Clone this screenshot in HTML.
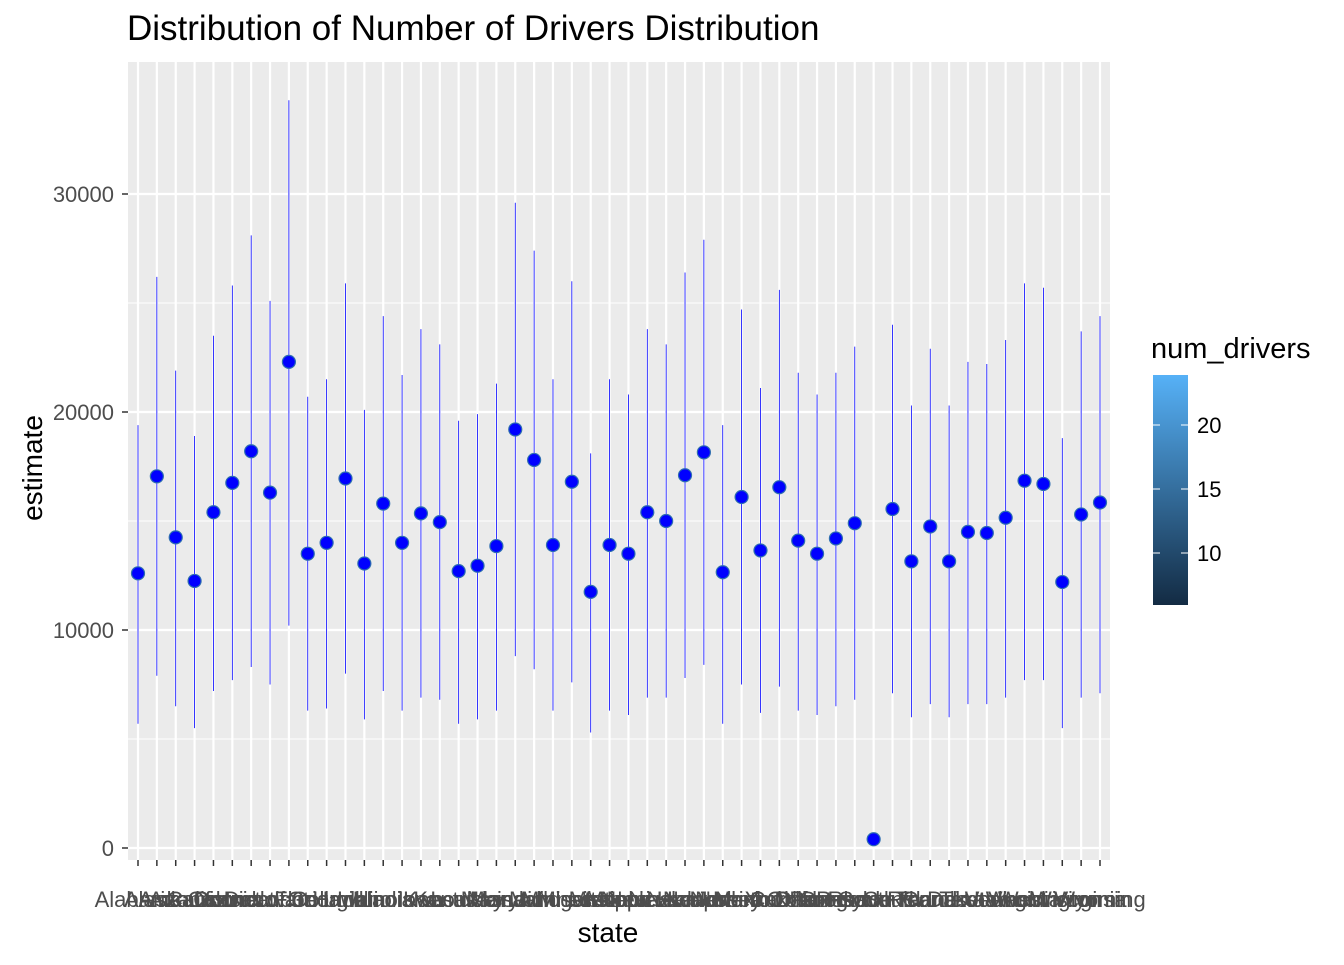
<!DOCTYPE html>
<html><head><meta charset="utf-8"><style>
body{margin:0;background:#fff;font-family:"Liberation Sans",Arial,sans-serif}
</style></head><body>
<svg id="chart" width="1344" height="960" xmlns="http://www.w3.org/2000/svg">
<defs><linearGradient id="cb" x1="0" y1="1" x2="0" y2="0"><stop offset="0" stop-color="#132B43"/><stop offset="1" stop-color="#56B1F7"/></linearGradient></defs>
<text x="127" y="40" font-size="35" fill="#000">Distribution of Number of Drivers Distribution</text>
<rect x="128" y="62" width="982" height="798" fill="#ebebeb"/>
<g id="grid"></g><g id="bars"></g><g id="pts"></g><g id="axes"></g>
<text x="608" y="942" font-size="28" text-anchor="middle">state</text>
<text transform="translate(42,468) rotate(-90)" font-size="28" text-anchor="middle">estimate</text>
<g>
<text x="1151" y="358" font-size="29">num_drivers</text>
<rect x="1153" y="375" width="35" height="230" fill="url(#cb)"/>
<g id="leg"></g></g>
</svg>
<script>
const states=["Alabama","Alaska","Arizona","Arkansas","California","Colorado","Connecticut","Delaware","District of Columbia","Florida","Georgia","Hawaii","Idaho","Illinois","Indiana","Iowa","Kansas","Kentucky","Louisiana","Maine","Maryland","Massachusetts","Michigan","Minnesota","Mississippi","Missouri","Montana","Nebraska","Nevada","New Hampshire","New Jersey","New Mexico","New York","North Carolina","North Dakota","Ohio","Oklahoma","Oregon","Pennsylvania","Puerto Rico","Rhode Island","South Carolina","South Dakota","Tennessee","Texas","Utah","Vermont","Virginia","Washington","West Virginia","Wisconsin","Wyoming"];
const estimates=[12600,17050,14250,12250,15400,16750,18200,16300,22300,13500,14000,16950,13050,15800,14000,15350,14950,12700,12950,13850,19200,17800,13900,16800,11750,13900,13500,15400,15000,17100,18150,12650,16100,13650,16550,14100,13500,14200,14900,400,15550,13150,14750,13150,14500,14450,15150,16850,16700,12200,15300,15850];
const lows=[5700,7900,6500,5500,7200,7700,8300,7500,10200,6300,6400,8000,5900,7200,6300,6900,6800,5700,5900,6300,8800,8200,6300,7600,5300,6300,6100,6900,6900,7800,8400,5700,7500,6200,7400,6300,6100,6500,6800,400,7100,6000,6600,6000,6600,6600,6900,7700,7700,5500,6900,7100];
const highs=[19400,26200,21900,18900,23500,25800,28100,25100,34300,20700,21500,25900,20100,24400,21700,23800,23100,19600,19900,21300,29600,27400,21500,26000,18100,21500,20800,23800,23100,26400,27900,19400,24700,21100,25600,21800,20800,21800,23000,400,24000,20300,22900,20300,22300,22200,23300,25900,25700,18800,23700,24400];
const yTicks=[0,10000,20000,30000];
const legTicks=[10,15,20];
const NS="http://www.w3.org/2000/svg";
const X=i=>138+i*(1100-138)/(states.length-1);
const Y=v=>848-v*(848-194)/30000;
const LY=v=>553-(v-10)*(553-425)/10;
function mk(p,t,a){const e=document.createElementNS(NS,t);for(const k in a)e.setAttribute(k,a[k]);document.getElementById(p).appendChild(e);return e;}
[5000,15000,25000].forEach(v=>{const e=mk('grid','line',{x1:128,x2:1110,y1:Y(v),y2:Y(v),stroke:'#fff','stroke-width':1});

});
yTicks.forEach(v=>{const e=mk('grid','line',{x1:128,x2:1110,y1:Y(v),y2:Y(v),stroke:'#fff','stroke-width':2.2});


const t=mk('axes','text',{x:114,y:Y(v)+8,'font-size':22,fill:'#4d4d4d','text-anchor':'end'});t.textContent=v;


mk('axes','line',{x1:122,x2:128,y1:Y(v),y2:Y(v),stroke:'#333','stroke-width':1.5});});
states.forEach((s,i)=>{const g=mk('grid','line',{x1:X(i),x2:X(i),y1:62,y2:860,stroke:'#fff','stroke-width':2.2});


const b=mk('bars','line',{x1:X(i),x2:X(i),y1:Y(lows[i]),y2:Y(highs[i]),stroke:'#0000ff','stroke-width':0.8});


const c=mk('pts','circle',{cx:X(i),cy:Y(estimates[i]),r:6.5,fill:'#0000ff',stroke:'#2d6db0','stroke-width':1.2});


mk('axes','line',{x1:X(i),x2:X(i),y1:860,y2:866,stroke:'#333','stroke-width':1.5});
const t=mk('axes','text',{x:X(i),y:907,'font-size':22,fill:'#4d4d4d','text-anchor':'middle'});t.textContent=s;

});
legTicks.forEach(v=>{mk('leg','line',{x1:1153,x2:1160,y1:LY(v),y2:LY(v),stroke:'#fff','stroke-width':1});
mk('leg','line',{x1:1181,x2:1188,y1:LY(v),y2:LY(v),stroke:'#fff','stroke-width':1});
const t=mk('leg','text',{x:1197,y:LY(v)+8,'font-size':22,fill:'#000'});t.textContent=v;

});
</script>
</body></html>
